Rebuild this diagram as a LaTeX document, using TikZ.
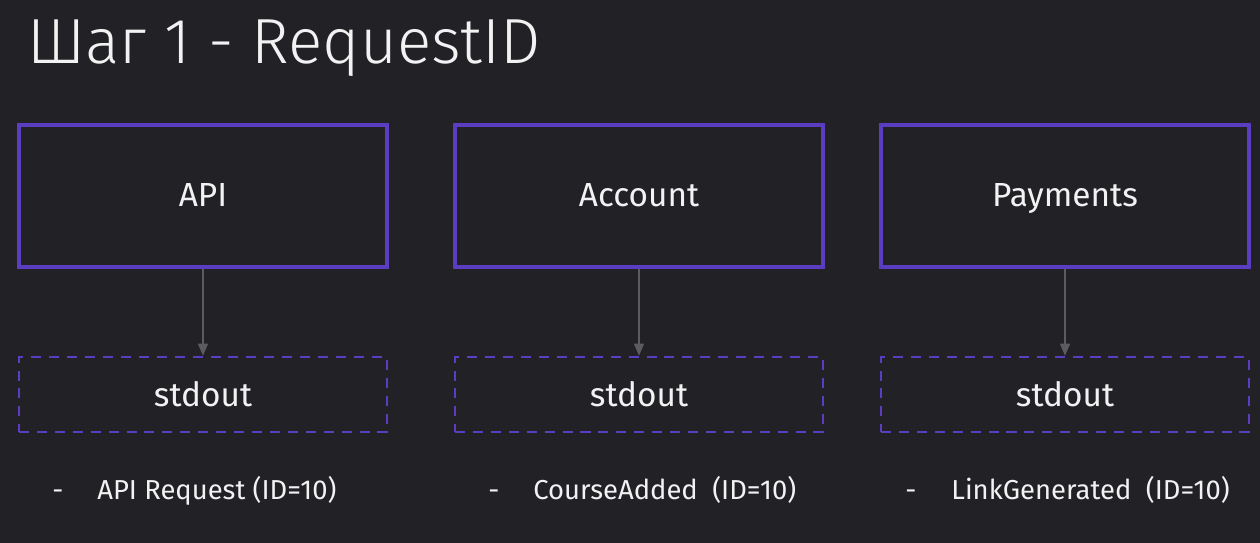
\documentclass[tikz,border=0pt]{standalone}
\usepackage{fontspec}
\setmainfont{Fira Sans}
\newfontfamily\titlefont{Fira Sans Light}
\usetikzlibrary{arrows.meta,positioning}
\definecolor{bgdark}{HTML}{222126}
\definecolor{svcpurple}{HTML}{5B3DC2}
\definecolor{arrowgray}{HTML}{5C5C5F}
\definecolor{txtwhite}{HTML}{F2F2F2}

\begin{document}
\begin{tikzpicture}[x=0.02cm,y=-0.02cm]

% --- STYLES ---
\tikzset{
  service/.style={rectangle, draw=svcpurple, line width=2pt, fill=bgdark,
                  text=txtwhite, font=\fontsize{19}{23}\selectfont,
                  text height=12.5pt, text depth=0pt,
                  minimum width=7.36cm, minimum height=2.84cm, inner sep=0pt},
  outbox/.style={rectangle, draw=svcpurple, line width=1.5pt,
                  dash pattern=on 5.7pt off 4.5pt, text=txtwhite,
                  font=\fontsize{19}{23}\selectfont,
                  text height=13.7pt, text depth=0pt,
                  minimum width=7.36cm, minimum height=1.5cm, inner sep=0pt},
  logline/.style={text=txtwhite, font=\fontsize{15.6}{19}\selectfont, inner sep=0pt},
  flow/.style={arrowgray, line width=0.7pt,
                  -{Triangle[length=6.8pt, width=5.7pt]}},
}

% ================= BACKGROUND =================
\fill[bgdark] (0,0) rectangle (1260,543);
\useasboundingbox (0,0) rectangle (1260,543);

% ================= TITLE =================
\node[anchor=base west, inner sep=0pt, text=txtwhite,
      font=\titlefont\fontsize{36.3}{44}\selectfont] (title) at (27,64) {Шаг 1 - RequestID};

% ================= SERVICES =================
\node[service] (api)      at (203, 196) {API};
\node[service] (account)  at (639, 196) {Account};
\node[service] (payments) at (1065,196) {Payments};

% ================= STDOUT =================
\node[outbox] (apiout)      at (203, 394.5) {stdout};
\node[outbox] (accountout)  at (639, 394.5) {stdout};
\node[outbox] (paymentsout) at (1065,394.5) {stdout};

% --- From service to stdout ---
\draw[flow] (api.south)      -- (apiout.north);
\draw[flow] (account.south)  -- (accountout.north);
\draw[flow] (payments.south) -- (paymentsout.north);

% ================= LOG LINES =================
\node[logline, anchor=base] (apidash)      at (58, 499) {-};
\node[logline, anchor=base west] (apilog)  at (97, 499) {API Request (ID=10)};
\node[logline, anchor=base] (accountdash)  at (494,499) {-};
\node[logline, anchor=base west] (accountlog) at (533,499) {CourseAdded\ \ (ID=10)};
\node[logline, anchor=base] (paymentsdash) at (911,499) {-};
\node[logline, anchor=base west] (paymentslog) at (951,499) {LinkGenerated\ \ (ID=10)};

\end{tikzpicture}
\end{document}
